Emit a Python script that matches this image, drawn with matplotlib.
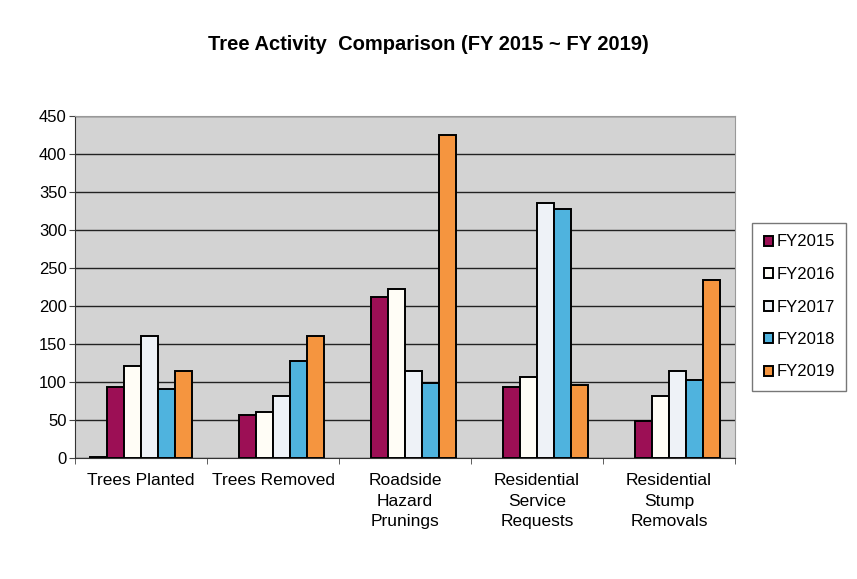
import numpy as np
import matplotlib
matplotlib.use("Agg")
import matplotlib.pyplot as plt

plt.rcParams["font.family"] = ["Liberation Sans", "DejaVu Sans"]

categories = ["Trees Planted", "Trees Removed", "Roadside\nHazard\nPrunings",
              "Residential\nService\nRequests", "Residential\nStump\nRemovals"]
# unlabelled leading series (only a sliver shows in the first group)
blank = [1, 0, 0, 0, 0]
fy2015 = [94, 56, 212, 94, 49]
fy2016 = [121, 61, 223, 107, 81]
fy2017 = [161, 82, 114, 336, 114]
fy2018 = [91, 128, 99, 327, 103]
fy2019 = [114, 160, 425, 96, 234]

series = [("", blank, "#333333"),
          ("FY2015", fy2015, "#9c0f55"),
          ("FY2016", fy2016, "#fffdf6"),
          ("FY2017", fy2017, "#eef2f7"),
          ("FY2018", fy2018, "#4fb3de"),
          ("FY2019", fy2019, "#f5953f")]

fig = plt.figure(figsize=(8.57, 5.79), dpi=100)
ax = fig.add_axes([75 / 857, 1 - 458 / 579, 660 / 857, 342 / 579])
ax.set_facecolor("#d3d3d3")

x = np.arange(len(categories))
n = len(series)
width = 0.775 / n
for i, (label, vals, col) in enumerate(series):
    pos = x - 0.775 / 2 + width * (i + 0.5)
    ax.bar(pos, vals, width, color=col, edgecolor="black",
           linewidth=[1.4 if v else 0 for v in vals],
           label=label if label else "_nolegend_", zorder=3)

ax.set_ylim(0, 450)
ax.set_xlim(-0.5, len(categories) - 0.5)
ax.set_yticks(range(0, 451, 50))
ax.yaxis.grid(True, color="#222222", linewidth=1.0, zorder=0)
ax.set_xticks(x)
ax.set_xticklabels(categories, fontsize=12.5, linespacing=1.45)
ax.tick_params(axis="x", length=0, pad=11)
ax.set_xticks(np.arange(-0.5, len(categories)), minor=True)
ax.tick_params(axis="x", which="minor", length=4, color="#444444")
ax.tick_params(axis="y", labelsize=12, length=4, pad=2, color="#444444")
for s in ["top", "right"]:
    ax.spines[s].set_color("#999999")
for s in ["left", "bottom"]:
    ax.spines[s].set_color("#333333")

fig.text(0.5, 1 - 45 / 579, "Tree Activity  Comparison (FY 2015 ~ FY 2019)",
         ha="center", va="center", fontsize=14.5, fontweight="bold")

leg = ax.legend(loc="center left", fontsize=12, frameon=True,
                fancybox=False, edgecolor="#555555", handlelength=0.55,
                handleheight=0.55, handletextpad=0.2, labelspacing=1.05,
                borderpad=0.7, borderaxespad=0)
leg.set_bbox_to_anchor((752 / 857, 1 - 307 / 579), transform=fig.transFigure)

fig.savefig("out.png", dpi=100)
